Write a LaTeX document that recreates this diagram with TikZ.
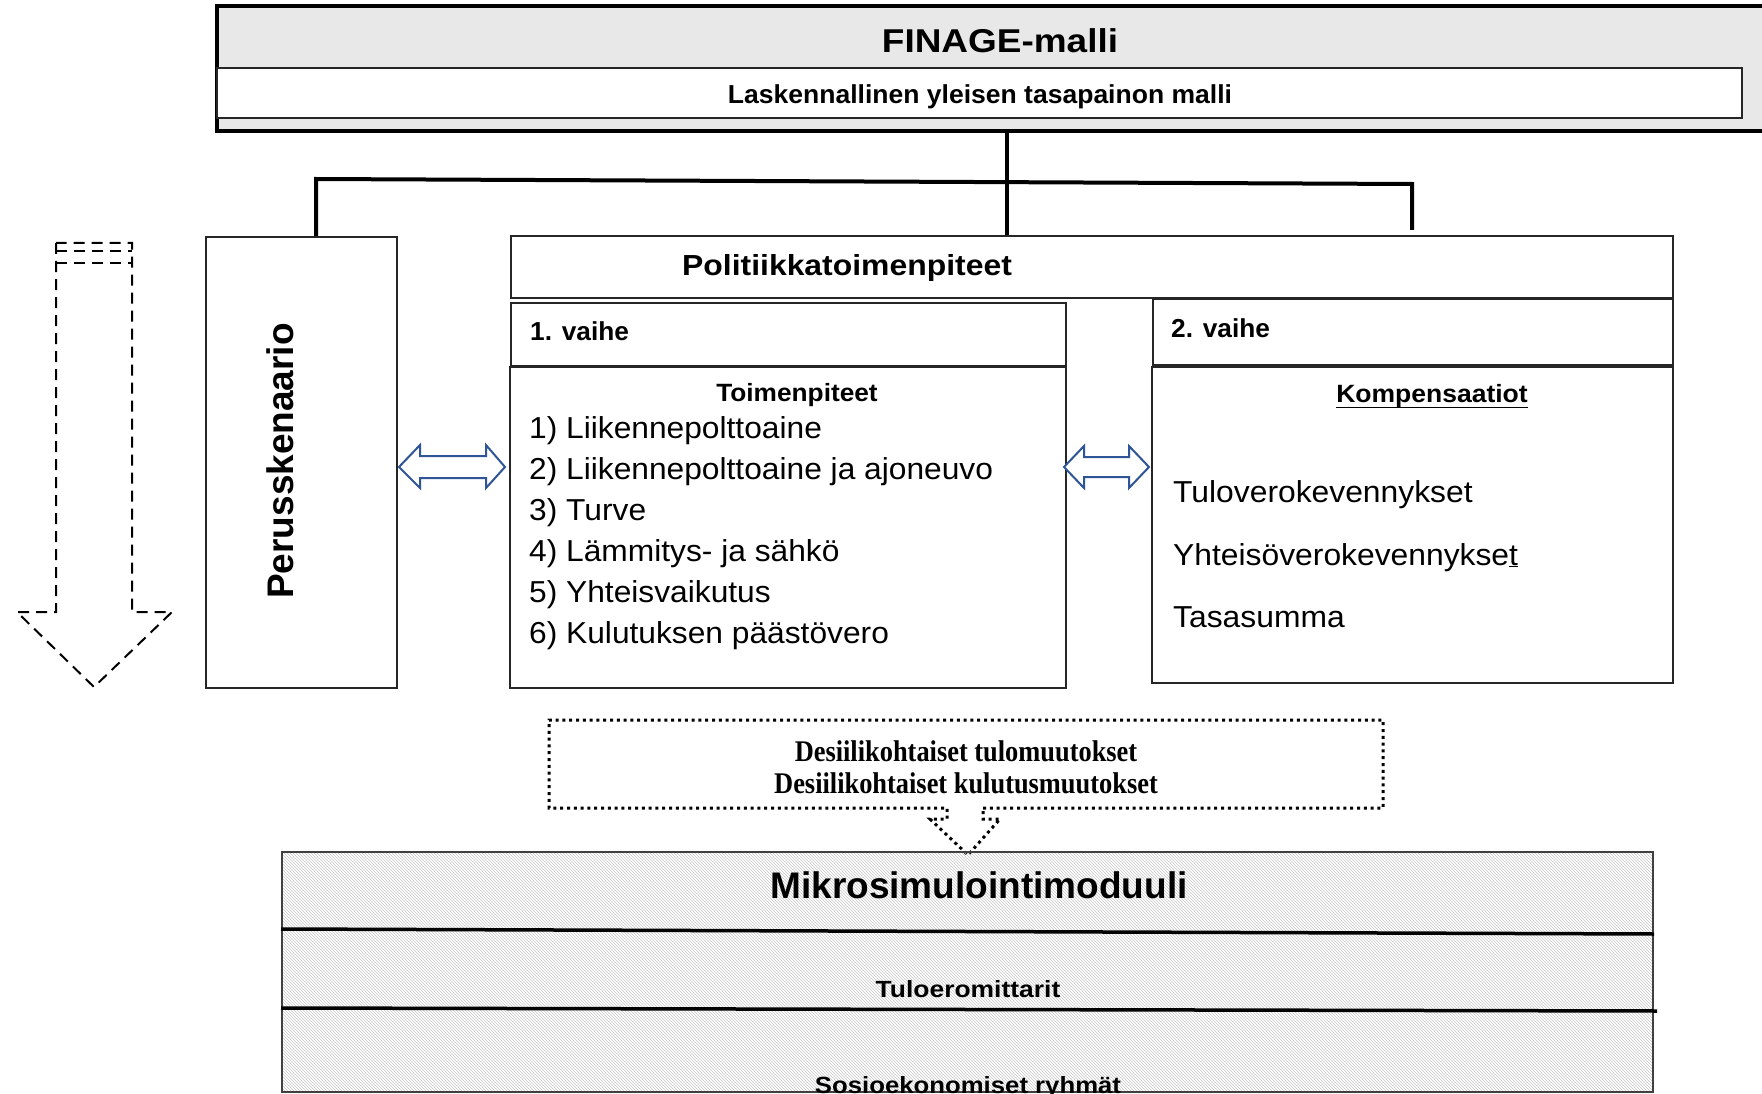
\documentclass[tikz,border=0pt]{standalone}
\usepackage{fontspec}
\usepackage{graphicx}
\setmainfont{Liberation Sans}
\newfontfamily\tnr{Liberation Serif}
\usetikzlibrary{patterns}
\definecolor{arrowblue}{RGB}{47,85,151}
\newcommand{\sx}[2]{\scalebox{#1}[1]{#2}}
\newcommand{\fs}[1]{\fontsize{#1}{#1}\selectfont}
\begin{document}
\begin{tikzpicture}[x=1pt,y=-1pt,
  txt/.style={inner sep=0pt, anchor=base},
  txtl/.style={inner sep=0pt, anchor=base west},
  thinbox/.style={draw=black!85, line width=1.3pt, inner sep=0pt},
  tree/.style={line width=4pt},
  dotline/.style={line width=3pt, dash pattern=on 3pt off 3.8pt},
  dashline/.style={line width=2pt, dash pattern=on 11pt off 7pt},
  blockarrow/.style={draw=arrowblue, line width=2pt, fill=white, line join=miter}
]
\useasboundingbox (0,0) rectangle (1762,1094);
\fill[white] (0,0) rectangle (1762,1094);

% FINAGE model box
\node[draw=black, line width=4pt, fill=black!9, inner sep=0pt,
      minimum width=1558pt, minimum height=125pt] (finage) at (996,68.5) {};
\node[draw=black!85, line width=1.3pt, fill=white, inner sep=0pt,
      minimum width=1525pt, minimum height=50pt] (finsub) at (979.5,93) {};
\node[txt] (finaget) at (1000,53) {\fs{33}\bfseries\sx{1.12}{FINAGE-malli}};
\node[txt] (finsubt) at (980,104) {\fs{26}\bfseries\sx{1.02}{Laskennallinen yleisen tasapainon malli}};

% boxes
\node[thinbox, minimum width=191pt, minimum height=451pt] (peruss) at (301.5,462.5) {};
\node[txt, rotate=90] (perusst) at (293,461) {\fs{37}\bfseries Perusskenaario};

\node[thinbox, minimum width=1162pt, minimum height=62pt] (polit) at (1092,267) {};
\node[txt] (politt) at (847,276) {\fs{29}\bfseries\sx{1.1}{Politiikkatoimenpiteet}};

\node[thinbox, minimum width=555pt, minimum height=63pt] (vaihe1) at (788.5,334.5) {};
\node[txtl] (vaihe1t) at (530,340) {\fs{26}\bfseries\sx{1.01}{1. vaihe}};

\node[thinbox, minimum width=556pt, minimum height=321pt] (toim) at (788,527.5) {};
\node[txt] (toimt) at (797,401) {\fs{25}\bfseries\sx{1.05}{Toimenpiteet}};
\node[txtl] (i1) at (529,438) {\fs{30.3}\sx{1.047}{1) Liikennepolttoaine}};
\node[txtl] (i2) at (529,479) {\fs{30.3}\sx{1.047}{2) Liikennepolttoaine ja ajoneuvo}};
\node[txtl] (i3) at (529,520) {\fs{30.3}\sx{1.047}{3) Turve}};
\node[txtl] (i4) at (529,561) {\fs{30.3}\sx{1.047}{4) Lämmitys- ja sähkö}};
\node[txtl] (i5) at (529,602) {\fs{30.3}\sx{1.047}{5) Yhteisvaikutus}};
\node[txtl] (i6) at (529,643) {\fs{30.3}\sx{1.047}{6) Kulutuksen päästövero}};

\node[thinbox, minimum width=520pt, minimum height=66pt] (vaihe2) at (1413,332) {};
\node[txtl] (vaihe2t) at (1171,337) {\fs{26}\bfseries\sx{1.01}{2. vaihe}};

\node[thinbox, minimum width=521pt, minimum height=316pt] (komp) at (1412.5,525) {};
\node[txt] (kompt) at (1432,402) {\fs{25}\bfseries\sx{1.06}{Kompensaatiot}};
\draw[line width=1.5pt] ([yshift=-5.5pt]kompt.base west) -- ([yshift=-5.5pt]kompt.base east);
\node[txtl] (k1) at (1173,502) {\fs{30.3}\sx{1.05}{Tuloverokevennykset}};
\node[txtl] (k2) at (1173,565) {\fs{30.3}\sx{1.05}{Yhteisöverokevennykse\underline{t}}};
\node[txtl] (k3) at (1173,627) {\fs{30.3}\sx{1.05}{Tasasumma}};

% tree connector
\coordinate (j1) at (316,179);
\coordinate (j2) at (1412,184);
\coordinate (jl) at (316,236);
\coordinate (jr) at (1412,230);
\draw[tree] (finage.south -| 1007,0) -- (polit.north -| 1007,0);
\draw[tree] (jl) -- (j1) -- (j2) -- (jr);

% blue block double arrows
\draw[blockarrow] (399,467) -- (420,445) -- (420,456) -- (486,456) -- (486,445) -- (505,467)
   -- (486,488) -- (486,478) -- (420,478) -- (420,488) -- cycle;
\draw[blockarrow] (1064,467) -- (1084,446) -- (1084,457) -- (1129,457) -- (1129,446) -- (1149,467)
   -- (1129,488) -- (1129,477) -- (1084,477) -- (1084,488) -- cycle;

% dashed down arrow (left)
\draw[dashline] (56,243) -- (56,612) -- (17,612) -- (94,687) -- (172,612) -- (132,612) -- (132,243) -- cycle;
\draw[dashline] (56,251) -- (132,251);
\draw[dashline] (56,263) -- (132,263);

% dotted box with arrow
\draw[dotline] (983,808) -- (1383,808) -- (1383,720) -- (549,720) -- (549,808) -- (947,808)
   -- (947,819) -- (930,819) -- (968,855) -- (1000,819) -- (983,819) -- cycle;
\node[txt] (d1) at (966,761) {\tnr\fs{30}\bfseries\sx{0.88}{Desiilikohtaiset tulomuutokset}};
\node[txt] (d2) at (966,793) {\tnr\fs{30}\bfseries\sx{0.88}{Desiilikohtaiset kulutusmuutokset}};

% microsimulation module
\node[draw=black!75, line width=1.5pt, pattern=north west lines, pattern color=black!22, inner sep=0pt,
      minimum width=1371pt, minimum height=240pt] (mikro) at (967.5,972) {};
\coordinate (m1a) at (281,929); \coordinate (m1b) at (1654,934);
\coordinate (m2a) at (281,1008); \coordinate (m2b) at (1657,1011);
\draw[line width=3.5pt] (m1a) -- (m1b);
\draw[line width=3.5pt] (m2a) -- (m2b);
\node[txt] (mikrot) at (979,898) {\fs{37}\bfseries Mikrosimulointimoduuli};
\node[txt] (tulot) at (968,997) {\fs{23.4}\bfseries\sx{1.13}{Tuloeromittarit}};
\node[txt] (sosiot) at (968,1093) {\fs{23.4}\bfseries\sx{1.1}{Sosioekonomiset ryhmät}};
\end{tikzpicture}
\end{document}
